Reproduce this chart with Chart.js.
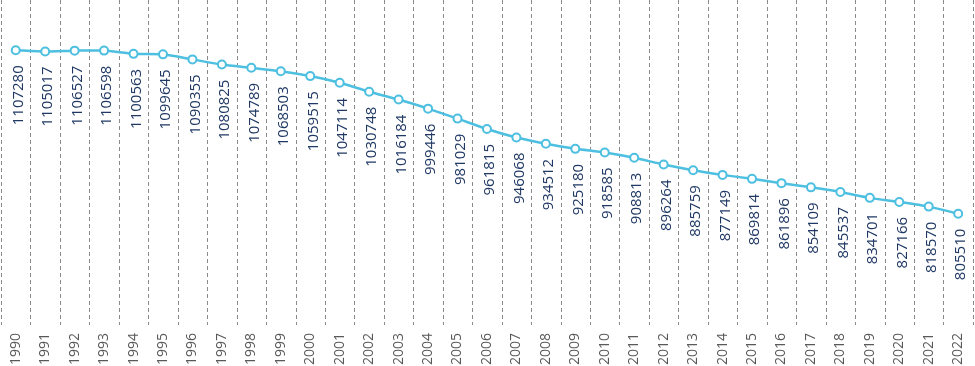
<!DOCTYPE html>
<html>
<head>
<meta charset="utf-8">
<script src="https://cdn.jsdelivr.net/npm/chart.js@4"></script>
<style>
    html, body { margin: 0; padding: 0; background: #fff; }
    #wrap { width: 975px; height: 366px; }
</style>
</head>
<body>
<div id="wrap"><canvas id="popChart"></canvas></div>
<script>
// -------------------------------
// DATA
// -------------------------------
const years = ["1990","1991","1992","1993","1994","1995","1996","1997","1998","1999",
    "2000","2001","2002","2003","2004","2005","2006","2007","2008","2009",
    "2010","2011","2012","2013","2014","2015","2016","2017","2018","2019",
    "2020","2021","2022"];

const population = [1107280, 1105017, 1106527, 1106598, 1100563, 1099645, 1090355, 1080825,
    1074789, 1068503, 1059515, 1047114, 1030748, 1016184, 999446, 981029,
    961815, 946068, 934512, 925180, 918585, 908813, 896264, 885759,
    877149, 869814, 861896, 854109, 845537, 834701, 827166, 818570, 805510];

const lineColor = "#4dbfe0";
const labelColor = "#1f3864";

// -------------------------------
// DASHED CATEGORY SEPARATORS
// -------------------------------
const dashedGrid = {
    id: "dashedGrid",
    beforeDatasetsDraw(chart) {
        const c = chart.ctx;
        const xs = chart.scales.x;
        const area = chart.chartArea;
        c.save();
        c.strokeStyle = "#8a8a8a";
        c.lineWidth = 1;
        c.setLineDash([4, 3]);
        for (let i = 0; i <= years.length; i++) {
            const x = Math.round(xs.getPixelForValue(i - 0.5)) + 0.5;
            c.beginPath();
            c.moveTo(x, area.top);
            c.lineTo(x, area.bottom);
            c.stroke();
        }
        c.restore();
    }
};

// -------------------------------
// VALUE LABELS (rotated, under each point)
// -------------------------------
const valueLabels = {
    id: "valueLabels",
    afterDatasetsDraw(chart) {
        const c = chart.ctx;
        const meta = chart.getDatasetMeta(0);
        c.save();
        c.fillStyle = labelColor;
        c.font = "15px 'Open Sans'";
        c.textAlign = "right";
        c.textBaseline = "middle";
        meta.data.forEach((pt, i) => {
            c.save();
            c.translate(pt.x + 3, pt.y + 15);
            c.rotate(-Math.PI / 2);
            c.fillText(String(population[i]), 0, 0);
            c.restore();
        });
        c.restore();
    }
};

// -------------------------------
// CHART
// -------------------------------
new Chart(document.getElementById("popChart"), {
    type: "line",
    data: {
        labels: years,
        datasets: [{
            data: population,
            borderColor: lineColor,
            borderWidth: 2.5,
            tension: 0.2,
            pointRadius: 4,
            pointBorderWidth: 2,
            pointBackgroundColor: "#fff",
            pointBorderColor: lineColor
        }]
    },
    options: {
        responsive: true,
        maintainAspectRatio: false,
        animation: false,
        layout: { autoPadding: false, padding: { left: 1, right: 1, top: 0, bottom: 0 } },
        plugins: {
            legend: { display: false },
            tooltip: { enabled: false }
        },
        scales: {
            x: {
                offset: true,
                border: { display: false },
                grid: { display: false },
                afterFit: scale => { scale.height = 41; },
                ticks: {
                    color: "#595959",
                    font: { family: "'Open Sans'", size: 14 },
                    minRotation: 90,
                    maxRotation: 90,
                    padding: 0,
                    autoSkip: false
                }
            },
            y: {
                display: false,
                min: 600000,
                max: 1200000
            }
        }
    },
    plugins: [dashedGrid, valueLabels]
});
</script>
</body>
</html>
